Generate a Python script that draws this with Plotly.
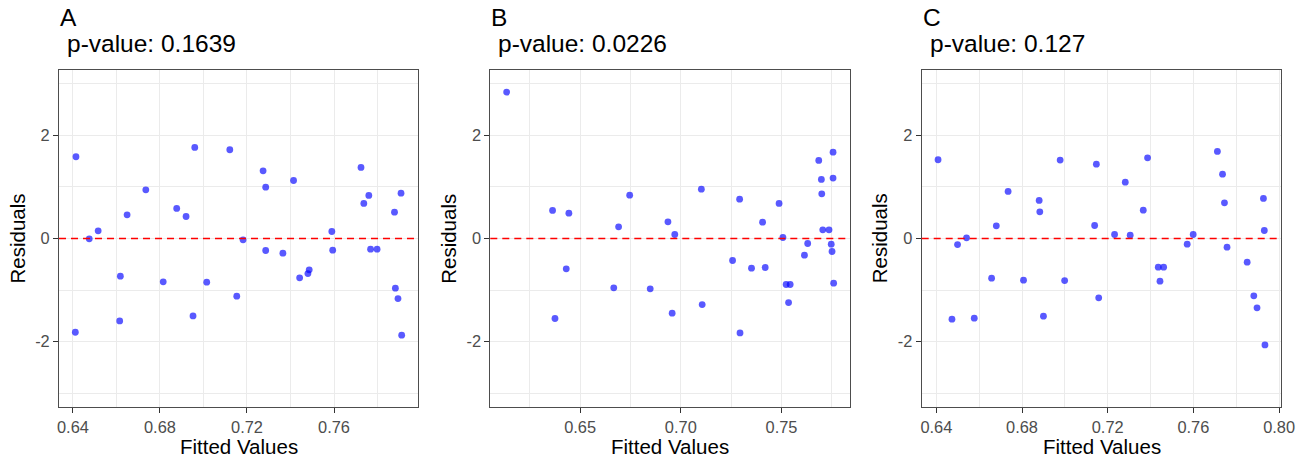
import plotly.graph_objects as go

# ---- data ----
panel_labels = ["A", "B", "C"]
p_values = ["0.1639", "0.0226", "0.127"]

fitted_A = [0.6414, 0.6411, 0.6475, 0.6516, 0.6649, 0.6618, 0.6615, 0.6735, 0.6815, 0.6877,
            0.6920, 0.6960, 0.6952, 0.7015, 0.7121, 0.7153, 0.7182, 0.7274, 0.7286, 0.7286,
            0.7365, 0.7414, 0.7442, 0.7480, 0.7486, 0.7590, 0.7594, 0.7724, 0.7737, 0.7760,
            0.7768, 0.7798, 0.7878, 0.7882, 0.7894, 0.7908, 0.7911]
resid_A = [1.586, -1.819, -0.006, 0.149, 0.460, -0.731, -1.599, 0.945, -0.841, 0.583,
           0.427, 1.767, -1.502, -0.848, 1.722, -1.120, -0.026, 1.314, 0.997, -0.233,
           -0.285, 1.126, -0.764, -0.680, -0.608, 0.136, -0.227, 1.379, 0.680, 0.835,
           -0.207, -0.207, 0.511, -0.964, -1.165, 0.880, -1.877]

fitted_B = [0.6135, 0.6363, 0.6375, 0.6444, 0.6431, 0.6667, 0.6691, 0.6746, 0.6848, 0.6936,
            0.6970, 0.6957, 0.7102, 0.7106, 0.7257, 0.7292, 0.7294, 0.7351, 0.7406, 0.7419,
            0.7488, 0.7507, 0.7523, 0.7543, 0.7535, 0.7614, 0.7630, 0.7685, 0.7698, 0.7700,
            0.7705, 0.7736, 0.7756, 0.7756, 0.7747, 0.7751, 0.7759]
resid_B = [2.841, 0.544, -1.553, 0.492, -0.589, -0.958, 0.227, 0.841, -0.977, 0.324,
           0.078, -1.450, 0.958, -1.282, -0.427, 0.764, -1.832, -0.576, 0.317, -0.563,
           0.680, 0.019, -0.893, -0.893, -1.243, -0.324, -0.097, 1.515, 1.146, 0.867,
           0.168, 0.168, 1.676, 1.172, -0.110, -0.252, -0.867]

fitted_C = [0.6408, 0.6473, 0.6499, 0.6541, 0.6577, 0.6658, 0.6680, 0.6735, 0.6807, 0.6880,
            0.6883, 0.6900, 0.6978, 0.6999, 0.7139, 0.7147, 0.7158, 0.7232, 0.7282, 0.7305,
            0.7366, 0.7386, 0.7436, 0.7461, 0.7444, 0.7571, 0.7599, 0.7712, 0.7736, 0.7745,
            0.7757, 0.7851, 0.7882, 0.7897, 0.7927, 0.7931, 0.7934]
resid_C = [1.528, -1.566, -0.117, 0.013, -1.547, -0.770, 0.246, 0.913, -0.809, 0.738,
           0.518, -1.508, 1.521, -0.816, 0.252, 1.443, -1.152, 0.078, 1.094, 0.065,
           0.550, 1.566, -0.557, -0.557, -0.828, -0.110, 0.078, 1.689, 1.249, 0.693,
           -0.168, -0.460, -1.113, -1.346, 0.777, 0.155, -2.065]

x_major = [(0.64, 0.04), (0.65, 0.05), (0.64, 0.04)]
y_ticks = [-2, 0, 2]

# ---- layout ----
W, H = 1309, 461
FONT = "Liberation Sans, Arial, Helvetica, sans-serif"
panels_px = [(59, 418), (490.3, 850), (921.7, 1281.3)]
top_px, bot_px = 70, 407


def px(x):
    return x / W


def py(y):
    return 1 - y / H


ydom = [py(bot_px), py(top_px)]
datasets = [(fitted_A, resid_A), (fitted_B, resid_B), (fitted_C, resid_C)]

fig = go.Figure()
annotations = []
shapes = []
for i, ((fx, ry), (l, r)) in enumerate(zip(datasets, panels_px)):
    n = "" if i == 0 else str(i + 1)
    xa, ya = "x" + n, "y" + n
    fig.add_trace(go.Scatter(
        x=fx, y=ry, mode="markers", xaxis=xa, yaxis=ya,
        marker=dict(color="rgba(0,0,255,0.65)", size=6.8, line=dict(width=0)),
        showlegend=False, hoverinfo="x+y"))
    lo, hi = min(fx), max(fx)
    d = hi - lo
    xr = [lo - 0.05 * d, hi + 0.05 * d]
    t0, dt = x_major[i]
    axis_common = dict(
        automargin=False,
        showline=True, mirror=True, linecolor="#4d4d4d", linewidth=1,
        ticks="outside", ticklen=5, tickcolor="#333333", tickwidth=1,
        showgrid=True, gridcolor="#EBEBEB", gridwidth=1.4,
        zeroline=False,
        tickfont=dict(family=FONT, size=16.4, color="#4D4D4D"),
    )
    fig.update_layout(**{
        ("xaxis" + n): dict(
            axis_common, domain=[px(l), px(r)], range=xr, anchor=ya,
            tick0=t0, dtick=dt, tickformat=".2f",
            minor=dict(showgrid=True, gridcolor="#EBEBEB", gridwidth=0.7,
                       tick0=t0 + dt / 2, dtick=dt, ticks=""),
        ),
        ("yaxis" + n): dict(
            axis_common, domain=ydom, range=[-3.27, 3.27], anchor=xa,
            tickvals=y_ticks, ticktext=[str(v) for v in y_ticks],
            minor=dict(showgrid=True, gridcolor="#EBEBEB", gridwidth=0.7,
                       tickvals=[-3, -1, 1, 3], ticks=""),
        ),
    })
    shapes.append(dict(type="line", xref=xa + " domain", yref=ya, x0=0, x1=1, y0=0, y1=0,
                       line=dict(color="red", width=1.6, dash="7px,5px"), layer="above"))
    annotations.append(dict(text=panel_labels[i], xref="paper", yref="paper",
                            x=px(l - 1), y=py(17), xanchor="left", yanchor="middle",
                            showarrow=False, font=dict(family=FONT, size=24.5, color="black")))
    annotations.append(dict(text="p-value: " + p_values[i], xref="paper", yref="paper",
                            x=px(l + 6), y=py(44), xanchor="left", yanchor="middle",
                            showarrow=False, font=dict(family=FONT, size=24.5, color="black")))
    annotations.append(dict(text="Residuals", xref="paper", yref="paper",
                            x=px(l - 42), y=py((top_px + bot_px) / 2),
                            xanchor="center", yanchor="middle", textangle=-90,
                            showarrow=False, font=dict(family=FONT, size=20.5, color="black")))
    annotations.append(dict(text="Fitted Values", xref="paper", yref="paper",
                            x=px((l + r) / 2), y=py(446),
                            xanchor="center", yanchor="middle",
                            showarrow=False, font=dict(family=FONT, size=20.5, color="black")))

fig.update_layout(
    width=W, height=H, margin=dict(l=0, r=0, t=0, b=0, autoexpand=False),
    paper_bgcolor="white", plot_bgcolor="white",
    font=dict(family=FONT),
    annotations=annotations, shapes=shapes,
)

post = ("document.documentElement.style.margin='0';"
        "document.body.style.margin='0';"
        "document.body.style.overflow='hidden';")

fig.write_html("out.html", config={"displayModeBar": False}, post_script=post)
